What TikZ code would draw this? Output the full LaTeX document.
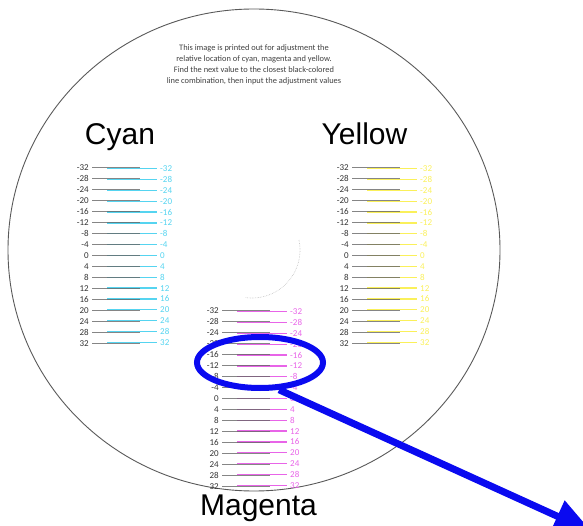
\documentclass[tikz,border=0pt]{standalone}
\usepackage{fontspec}
\setmainfont{Liberation Sans}
\newfontfamily\printfont{Carlito}
\usetikzlibrary{shapes.geometric,arrows.meta}
\definecolor{cyanink}{RGB}{85,212,240}
\definecolor{yellowink}{RGB}{250,240,90}
\definecolor{magentaink}{RGB}{232,100,232}
\definecolor{zoomblue}{RGB}{10,10,240}
\tikzset{
  scalenum/.style={font=\printfont\fontsize{9}{9}\selectfont, inner sep=0pt},
  colorname/.style={font=\fontsize{30}{30}\selectfont, anchor=base, inner sep=0pt}
}
\begin{document}
\begin{tikzpicture}[x=1pt,y=-1pt]
\useasboundingbox (0,0) rectangle (583,526);
% disc outline and faint centre mark
\draw[black!65, line width=0.9] (254,250) ellipse [x radius=246, y radius=241];
\draw[black!25, densely dotted, line width=0.6] plot[domain=-12:98, samples=40] ({252+48*cos(\x)}, {250+48*sin(\x)});
\node[align=center, text=black!75, font=\printfont\fontsize{8.4}{11}\selectfont] (note) at (254,65)
  {This image is printed out for adjustment the\\relative location of cyan, magenta and yellow.\\Find the next value to the closest black-colored\\line combination, then input the adjustment values};
\node[colorname] (cyanname) at (120,144.3) {Cyan};
\node[colorname] (yellowname) at (364.5,144.3) {Yellow};
\node[colorname] (magentaname) at (258.5,515) {Magenta};
% three scales: offset x / top y / ink / prefix
\foreach \sx/\sy/\ink/\nm in {0/167.5/cyanink/c, 260/167.5/yellowink/y, 130/310.5/magentaink/m}
  \foreach \v [count=\i from 0] in {-32,-28,...,32} {
    \pgfmathsetmacro{\ry}{\sy+11*\i}
    \pgfmathsetmacro{\dy}{-0.035*\v}
    \draw[\ink, line width=1.2] (\sx+107,\ry+\dy) -- (\sx+157,\ry+\dy);
    \draw[black!60, opacity=0.8, line width=1.1] (\sx+92,\ry) -- (\sx+140,\ry);
    \node[scalenum, anchor=east, text=black!80] (\nm-l\i) at (\sx+89,\ry) {\v};
    \node[scalenum, anchor=west, text=\ink] (\nm-r\i) at (\sx+160,\ry+\dy) {\v};
  }
% zoom mark
\node[ellipse, draw=zoomblue, line width=6pt, minimum width=126pt, minimum height=51pt, inner sep=0pt] (zoom) at (260,362.5) {};
\coordinate (tip) at (592,532);
\draw[zoomblue, line width=7pt, -{Triangle[length=38pt,width=33pt]}] (zoom.-55) -- (tip);
\end{tikzpicture}
\end{document}
